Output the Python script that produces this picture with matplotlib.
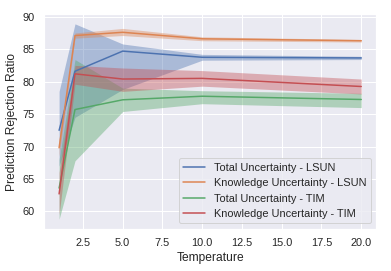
import matplotlib
matplotlib.use('Agg')
import matplotlib.pyplot as plt
import seaborn as sns

# data
temps = [1, 2, 5, 10, 20]

total_lsun = [72.5, 81.6, 84.7, 83.75, 83.65]
total_lsun_lo = [67.0, 74.5, 78.8, 83.3, 83.4]
total_lsun_hi = [78.5, 88.9, 85.8, 84.2, 83.9]

know_lsun = [69.8, 87.1, 87.6, 86.6, 86.3]
know_lsun_lo = [68.5, 86.7, 87.1, 86.3, 86.1]
know_lsun_hi = [71.0, 87.5, 88.2, 86.9, 86.5]

total_tim = [63.6, 75.7, 77.2, 77.75, 77.25]
total_tim_lo = [58.8, 67.8, 75.4, 76.6, 76.0]
total_tim_hi = [68.0, 83.4, 79.0, 78.6, 78.2]

know_tim = [62.7, 81.2, 80.4, 80.5, 79.25]
know_tim_lo = [59.5, 79.6, 78.5, 79.3, 78.1]
know_tim_hi = [66.0, 82.5, 82.1, 81.7, 80.4]

labels = ['Total Uncertainty - LSUN', 'Knowledge Uncertainty - LSUN',
          'Total Uncertainty - TIM', 'Knowledge Uncertainty - TIM']

sns.set()
plt.rcParams['font.family'] = ['Liberation Sans', 'DejaVu Sans']
colors = sns.color_palette('deep')

fig = plt.figure(figsize=(391 / 72, 271 / 72), dpi=72)
ax = fig.add_axes([0.1125, 0.155, 0.85, 0.793])

series = [
    (total_lsun, total_lsun_lo, total_lsun_hi),
    (know_lsun, know_lsun_lo, know_lsun_hi),
    (total_tim, total_tim_lo, total_tim_hi),
    (know_tim, know_tim_lo, know_tim_hi),
]
for i, (mid, lo, hi) in enumerate(series):
    ax.plot(temps, mid, color=colors[i], label=labels[i])
    ax.fill_between(temps, lo, hi, color=colors[i], alpha=0.4, linewidth=0)

ax.set_xlabel('Temperature')
ax.set_ylabel('Prediction Rejection Ratio')
ax.legend(loc='lower right')

fig.savefig('out.png', dpi=72)
